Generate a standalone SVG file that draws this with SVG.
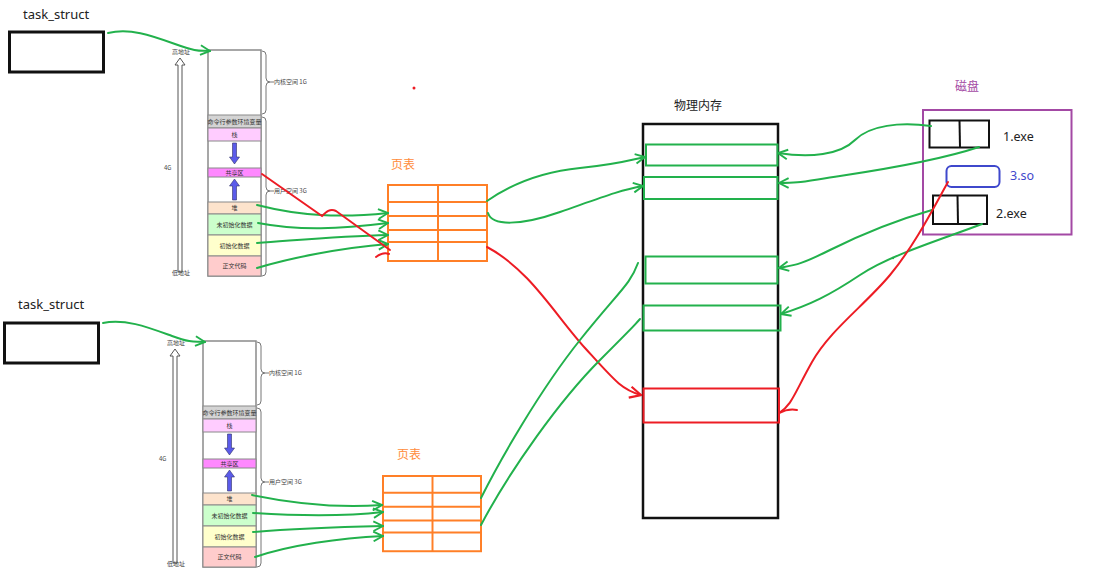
<svg xmlns="http://www.w3.org/2000/svg" xmlns:xlink="http://www.w3.org/1999/xlink" width="1116" height="583" viewBox="0 0 1116 583">
<style>
.t{font-family:"Noto Sans","Noto Sans CJK SC",sans-serif;fill:#222}
.s{font-family:"Noto Sans CJK SC",sans-serif;font-size:6px;fill:#333;text-anchor:middle}
.lab{font-family:"Noto Sans CJK SC",sans-serif;font-size:6px;fill:#444}
.band{stroke:#8a8a8a;stroke-width:1}
.g{fill:none;stroke:#22b14c;stroke-width:2;stroke-linecap:round}
.r{fill:none;stroke:#ed1c24;stroke-width:2;stroke-linecap:round}
.pt{fill:none;stroke:#ff7f27;stroke-width:2}
.blk{fill:#fff;stroke:#111;stroke-width:3}
</style>
<defs>
<marker id="ag" viewBox="0 0 10 10" refX="9" refY="5" markerWidth="12" markerHeight="12" markerUnits="userSpaceOnUse" orient="auto"><path d="M1,1 L9,5 L1,9" fill="none" stroke="#22b14c" stroke-width="1.6"/></marker>
<marker id="ar" viewBox="0 0 10 10" refX="9" refY="5" markerWidth="14" markerHeight="14" markerUnits="userSpaceOnUse" orient="auto"><path d="M1,1 L9,5 L1,9" fill="none" stroke="#ed1c24" stroke-width="1.6"/></marker>
<g id="addr">
<polygon points="180,58 185,65 182,65 182,272 178,272 178,65 175,65" fill="#fff" stroke="#555" stroke-width="1"/>
<text class="lab" x="172" y="54">高地址</text>
<text class="lab" x="172" y="275">低地址</text>
<text class="lab" x="164" y="170">4G</text>
<rect x="208" y="50" width="53" height="226" fill="#fff" stroke="#8a8a8a" stroke-width="1.5"/>
<rect class="band" x="208" y="115" width="53" height="13" fill="#d4d4d4"/>
<rect class="band" x="208" y="128" width="53" height="13" fill="#ffccff"/>
<rect class="band" x="208" y="168" width="53" height="9" fill="#ff88ff"/>
<rect class="band" x="208" y="202" width="53" height="12" fill="#fde3cc"/>
<rect class="band" x="208" y="214" width="53" height="21" fill="#ccffcc"/>
<rect class="band" x="208" y="235" width="53" height="21" fill="#ffffcc"/>
<rect class="band" x="208" y="256" width="53" height="20" fill="#ffcccc"/>
<text class="s" x="234.5" y="124">命令行参数环境变量</text>
<text class="s" x="234.5" y="137">栈</text>
<text class="s" x="234.5" y="175">共享区</text>
<text class="s" x="234.5" y="210">堆</text>
<text class="s" x="234.5" y="227">未初始化数据</text>
<text class="s" x="234.5" y="248">初始化数据</text>
<text class="s" x="234.5" y="268">正文代码</text>
<polygon points="232.5,143 236.5,143 236.5,157 239.5,157 234.5,164 229.5,157 232.5,157" fill="#5b5bea" stroke="#333366" stroke-width="0.6"/>
<polygon points="234.5,179 239.5,186 236.5,186 236.5,200 232.5,200 232.5,186 229.5,186" fill="#5b5bea" stroke="#333366" stroke-width="0.6"/>
<path d="M262,51 q4,0 4,4 v23 q0,4 4,4 q-4,0 -4,4 v24 q0,4 -4,4" fill="none" stroke="#777" stroke-width="1"/>
<path d="M262,117 q4,0 4,4 v66 q0,4 4,4 q-4,0 -4,4 v77 q0,4 -4,4" fill="none" stroke="#777" stroke-width="1"/>
<line x1="270" y1="82" x2="274" y2="82" stroke="#555" stroke-width="0.8"/>
<line x1="270" y1="191" x2="274" y2="191" stroke="#555" stroke-width="0.8"/>
<text class="lab" x="274" y="84">内核空间 1G</text>
<text class="lab" x="274" y="193">用户空间 3G</text>
</g>
<g id="ptab">
<rect class="pt" x="0" y="0" width="99" height="76"/>
<line class="pt" x1="50" y1="0" x2="50" y2="76"/>
<line class="pt" x1="0" y1="17" x2="99" y2="17"/>
<line class="pt" x1="0" y1="31" x2="99" y2="31"/>
<line class="pt" x1="0" y1="45" x2="100" y2="45"/>
<line class="pt" x1="0" y1="57" x2="99" y2="57"/>
</g>
</defs>

<g id="task1">
<text class="t" x="23" y="19" font-size="13">task_struct</text>
<rect class="blk" x="9.5" y="32" width="94" height="40"/>
</g>
<g id="task2">
<text class="t" x="18" y="309" font-size="13">task_struct</text>
<rect class="blk" x="4.5" y="323" width="94" height="40"/>
</g>

<g id="addr1"><use href="#addr" xlink:href="#addr"/></g>
<g id="addr2"><use href="#addr" xlink:href="#addr" transform="translate(-5,291)"/></g>

<g id="pagetable1">
<text x="403" y="169" font-family="Noto Sans CJK SC,sans-serif" font-size="12" fill="#ff8c3a" text-anchor="middle">页表</text>
<use href="#ptab" xlink:href="#ptab" transform="translate(388,185)"/>
</g>
<g id="pagetable2">
<text x="409" y="459" font-family="Noto Sans CJK SC,sans-serif" font-size="12" fill="#ff8c3a" text-anchor="middle">页表</text>
<use href="#ptab" xlink:href="#ptab" transform="translate(383,476) scale(0.99,0.99)"/>
</g>

<g id="physmem">
<text class="t" x="698" y="110" font-size="12" text-anchor="middle">物理内存</text>
<rect x="643" y="124" width="135" height="394" fill="#fff" stroke="#111" stroke-width="2.5"/>
<rect x="646" y="144.5" width="131.5" height="21" fill="none" stroke="#22b14c" stroke-width="2"/>
<rect x="644" y="177" width="133.5" height="22" fill="none" stroke="#22b14c" stroke-width="2"/>
<rect x="645.5" y="256.5" width="132" height="27" fill="none" stroke="#22b14c" stroke-width="2"/>
<rect x="643.5" y="305.5" width="137" height="25" fill="none" stroke="#22b14c" stroke-width="2"/>
<rect x="643.5" y="388.5" width="135.5" height="34" fill="none" stroke="#ed1c24" stroke-width="2"/>
</g>

<g id="disk">
<text x="967" y="91" font-family="Noto Sans CJK SC,sans-serif" font-size="12" fill="#a349a4" text-anchor="middle">磁盘</text>
<rect x="923" y="110" width="148.5" height="124.5" fill="none" stroke="#a349a4" stroke-width="2"/>
<rect x="929.5" y="120.5" width="59.5" height="27" fill="none" stroke="#111" stroke-width="2"/>
<line x1="959.5" y1="120.5" x2="960" y2="147.5" stroke="#111" stroke-width="2"/>
<text class="t" x="1003" y="141" font-size="12.5">1.exe</text>
<rect x="946.5" y="166" width="53" height="21" rx="5" fill="none" stroke="#3f48cc" stroke-width="2"/>
<text x="1010" y="180" font-family="Noto Sans,sans-serif" font-size="12.5" fill="#3f48cc">3.so</text>
<rect x="933" y="195.5" width="54" height="28.5" fill="none" stroke="#111" stroke-width="2"/>
<line x1="957.5" y1="195.5" x2="958" y2="224" stroke="#111" stroke-width="2"/>
<text class="t" x="996" y="218" font-size="12.5">2.exe</text>
</g>

<g id="connectors">
<path class="g" d="M108,33 C130,28 150,35 175,44 S200,50 210,51" marker-end="url(#ag)"/>
<path class="g" d="M257,205 C300,216 340,218 388,213" marker-end="url(#ag)"/>
<path class="g" d="M258,223 C300,231 340,229 388,223" marker-end="url(#ag)"/>
<path class="g" d="M257,243 C300,240 340,236 388,235" marker-end="url(#ag)"/>
<path class="g" d="M257,268 C290,258 340,248 388,244" marker-end="url(#ag)"/>
<path class="r" d="M262,174 L322,216 C326,212 330,208 336,211 L390,250"/>
<path class="r" d="M376,257 C380,254 384,252 389,254" stroke-width="1.2"/>
<path class="r" d="M487,247 C530,270 555,315 585,348 S622,390 641,395" marker-end="url(#ar)"/>
<path class="g" d="M487,201 C510,185 540,172 580,168 S630,160 645,157" marker-end="url(#ag)"/>
<path class="g" d="M488,213 C492,226 520,226 560,212 S620,190 643,186" marker-end="url(#ag)"/>
<path class="g" d="M931,126 C900,122 870,125 855,140 S810,158 778,153" marker-end="url(#ag)"/>
<path class="g" d="M979,147 C940,160 880,170 840,176 S800,183 779,183" marker-end="url(#ag)"/>
<path class="g" d="M932,210 C890,222 860,235 830,250 S795,265 779,268" marker-end="url(#ag)"/>
<path class="g" d="M982,224 C940,240 890,255 860,275 S810,305 781,314" marker-end="url(#ag)"/>
<path class="r" d="M948,182 C935,205 915,245 890,275 S830,330 812,362 S792,405 779,413"/>
<path class="r" d="M779,395 L779,413 M779,413 C785,410 792,409 797,410" stroke-width="2"/>
<path class="g" d="M103,323 C125,318 150,328 172,336 S195,341 205,342" marker-end="url(#ag)"/>
<path class="g" d="M252,495 C300,505 340,508 382,505" marker-end="url(#ag)"/>
<path class="g" d="M253,513 C300,516 340,517 383,512" marker-end="url(#ag)"/>
<path class="g" d="M253,532 C300,528 340,527 383,526" marker-end="url(#ag)"/>
<path class="g" d="M255,557 C290,545 340,538 383,536" marker-end="url(#ag)"/>
<path class="g" d="M481,498 C500,460 540,390 580,340 S630,285 638,263"/>
<path class="g" d="M481,525 C510,470 560,400 600,360 S630,330 640,319"/>
<circle cx="414" cy="88" r="1.5" fill="#ed1c24"/>
<circle cx="893" cy="258" r="1.2" fill="#22b14c"/>
</g>
</svg>
